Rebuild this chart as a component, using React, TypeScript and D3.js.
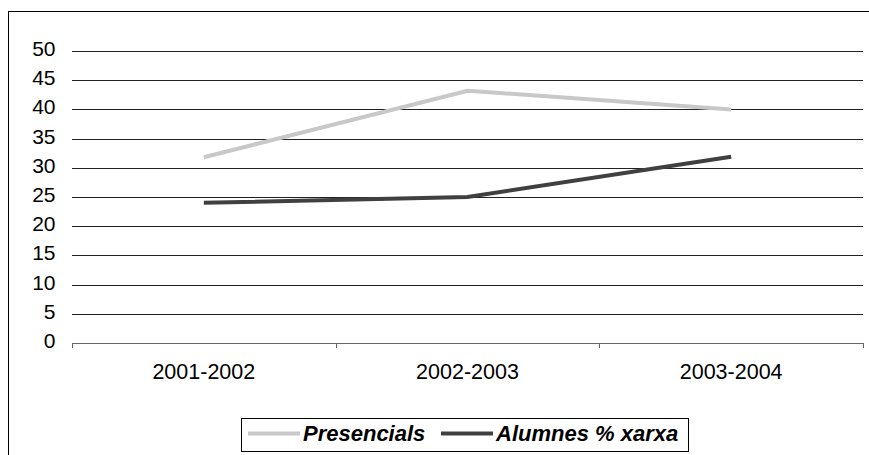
import { useRef, useEffect } from "react";
import * as d3 from "d3";

const categories = ["2001-2002", "2002-2003", "2003-2004"];
const presencials = [31.8, 43.2, 40.0];
const alumnesXarxa = [24.0, 25.0, 31.9];
const yTicks = [0, 5, 10, 15, 20, 25, 30, 35, 40, 45, 50];

const seriesList = [
  { name: "Presencials", values: presencials, color: "#c8c8c8" },
  { name: "Alumnes % xarxa", values: alumnesXarxa, color: "#404040" },
];

export default function App() {
  const svgRef = useRef<SVGSVGElement>(null);

  useEffect(() => {
    if (!svgRef.current) return;
    const svg = d3.select(svgRef.current);
    svg.selectAll("*").remove();

    const font = "'Liberation Sans', Arial, sans-serif";

    // outer frame
    svg
      .append("rect")
      .attr("x", 8.5)
      .attr("y", 11.5)
      .attr("width", 900)
      .attr("height", 500)
      .attr("fill", "#fff")
      .attr("stroke", "#000")
      .attr("stroke-width", 1);

    const left = 72;
    const right = 863;
    const top = 51;
    const bottom = 343;

    const x = d3.scaleBand().domain(categories).range([left, right]).padding(0);
    const y = d3.scaleLinear().domain([0, 50]).range([bottom, top]);

    // grid lines
    svg
      .append("g")
      .selectAll("line")
      .data(yTicks.filter((t) => t > 0))
      .enter()
      .append("line")
      .attr("x1", left)
      .attr("x2", right)
      .attr("y1", (d) => Math.round(y(d)) + 0.5)
      .attr("y2", (d) => Math.round(y(d)) + 0.5)
      .attr("stroke", "#222")
      .attr("stroke-width", 1);

    // Y axis labels
    svg
      .append("g")
      .selectAll("text")
      .data(yTicks)
      .enter()
      .append("text")
      .attr("x", 55.5)
      .attr("y", (d) => y(d) + 5)
      .attr("text-anchor", "end")
      .attr("font-family", font)
      .attr("font-size", "21px")
      .attr("fill", "#000")
      .text((d) => d);

    // X axis
    svg
      .append("g")
      .attr("transform", `translate(0, ${Math.round(bottom) + 0.5})`)
      .call(
        d3
          .axisBottom(x)
          .tickSize(0)
          .tickFormat(() => "")
      )
      .call((g) => g.select(".domain").attr("stroke", "#666").attr("d", `M${left},0H${right}`))
      .call((g) => g.selectAll(".tick").remove());

    // category tick marks at band boundaries
    const bounds = categories.map((c) => x(c) || 0).concat([right]);
    svg
      .append("g")
      .selectAll("line")
      .data(bounds)
      .enter()
      .append("line")
      .attr("x1", (d) => Math.round(d) + 0.5)
      .attr("x2", (d) => Math.round(d) + 0.5)
      .attr("y1", bottom)
      .attr("y2", bottom + 5)
      .attr("stroke", "#666");

    svg
      .append("g")
      .selectAll("text")
      .data(categories)
      .enter()
      .append("text")
      .attr("x", (d) => (x(d) || 0) + x.bandwidth() / 2)
      .attr("y", 379)
      .attr("text-anchor", "middle")
      .attr("font-family", font)
      .attr("font-size", "21.5px")
      .attr("fill", "#000")
      .text((d) => d);

    // lines
    const line = d3
      .line<number>()
      .x((_, i) => (x(categories[i]) || 0) + x.bandwidth() / 2)
      .y((d) => y(d));

    seriesList.forEach((s) => {
      svg
        .append("path")
        .datum(s.values)
        .attr("d", line)
        .attr("fill", "none")
        .attr("stroke", s.color)
        .attr("stroke-width", 4);
    });

    // legend
    const legend = svg.append("g");
    legend
      .append("rect")
      .attr("x", 241.5)
      .attr("y", 418.5)
      .attr("width", 447)
      .attr("height", 33)
      .attr("fill", "#fff")
      .attr("stroke", "#000");

    const legendX = [248, 441];
    seriesList.forEach((s, i) => {
      legend
        .append("line")
        .attr("x1", legendX[i])
        .attr("x2", legendX[i] + 52)
        .attr("y1", 433.5)
        .attr("y2", 433.5)
        .attr("stroke", s.color)
        .attr("stroke-width", 4);
      legend
        .append("text")
        .attr("x", legendX[i] + 55)
        .attr("y", 441)
        .attr("font-family", font)
        .attr("font-size", "22px")
        .attr("font-weight", "bold")
        .attr("font-style", "italic")
        .attr("fill", "#000")
        .text(s.name);
    });
  }, []);

  return (
    <svg
      ref={svgRef}
      width={869}
      height={455}
      style={{ position: "absolute", left: 0, top: 0, background: "#fff" }}
    />
  );
}
